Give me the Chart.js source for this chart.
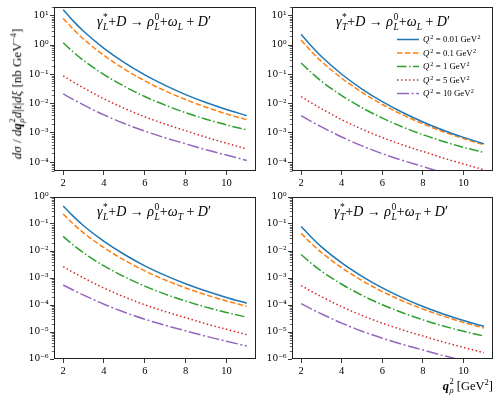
<!DOCTYPE html>
<html><head><meta charset="utf-8">
<script src="https://cdn.jsdelivr.net/npm/chart.js@4.4.1/dist/chart.umd.min.js"></script>
<style>
html,body{margin:0;padding:0;background:#fff}
#fig{position:relative;width:498px;height:399px;overflow:hidden;font-family:"Liberation Serif",serif;color:#000}
canvas{position:absolute}
.ann{position:absolute;white-space:nowrap;line-height:1}
.ss{display:inline-block;vertical-align:-0.32em;font-size:0.68em;line-height:1.0;margin-left:0.5px}
.ss>span{display:block}
.ttl{font-size:14px;transform:translateX(-50%)}
</style></head><body>
<div id="fig">
<canvas id="c0" width="258" height="190" style="left:0;top:0"></canvas>
<canvas id="c1" width="258" height="190" style="left:240px;top:0"></canvas>
<canvas id="c2" width="258" height="190" style="left:0;top:190px"></canvas>
<canvas id="c3" width="258" height="190" style="left:240px;top:190px"></canvas>
<div class="ann ttl" style="left:154px;top:13px"><i>γ</i><span class="ss"><span>*</span><span><i>L</i></span></span>+<i>D</i> → <i>ρ</i><span class="ss"><span>0</span><span><i>L</i></span></span>+<i>ω</i><sub style="font-size:0.68em"><i>L</i></sub> + <i>D</i>′</div>
<div class="ann ttl" style="left:393px;top:13px"><i>γ</i><span class="ss"><span>*</span><span><i>T</i></span></span>+<i>D</i> → <i>ρ</i><span class="ss"><span>0</span><span><i>L</i></span></span>+<i>ω</i><sub style="font-size:0.68em"><i>L</i></sub> + <i>D</i>′</div>
<div class="ann ttl" style="left:154px;top:203px"><i>γ</i><span class="ss"><span>*</span><span><i>L</i></span></span>+<i>D</i> → <i>ρ</i><span class="ss"><span>0</span><span><i>L</i></span></span>+<i>ω</i><sub style="font-size:0.68em"><i>T</i></sub> + <i>D</i>′</div>
<div class="ann ttl" style="left:391px;top:203px"><i>γ</i><span class="ss"><span>*</span><span><i>T</i></span></span>+<i>D</i> → <i>ρ</i><span class="ss"><span>0</span><span><i>L</i></span></span>+<i>ω</i><sub style="font-size:0.68em"><i>T</i></sub> + <i>D</i>′</div>
<div class="ann" style="left:17px;top:94px;font-size:13px;transform:translate(-50%,-50%) rotate(-90deg)"><i>dσ</i> / <i>d</i><b><i>q</i></b><span class="ss"><span>2</span><span><i>ρ</i></span></span><i>d</i>|<i>t</i>|<i>dξ</i> [nb GeV<sup style="font-size:0.68em">−4</sup>]</div>
<div class="ann" style="right:5px;top:377px;font-size:12.5px"><b><i>q</i></b><span class="ss"><span>2</span><span><i>ρ</i></span></span> [GeV<sup style="font-size:0.68em">2</sup>]</div>
</div>
<script>
// ---- data ----
const qSq = [2, 2.5, 3, 4, 5, 6, 7, 8, 9, 10, 11];
const seriesLabels = ['Q² = 0.01 GeV²', 'Q² = 0.1 GeV²', 'Q² = 1 GeV²', 'Q² = 5 GeV²', 'Q² = 10 GeV²'];

// gamma*_L + D -> rho_L + omega_L + D'
const gLwL_001 = [16.2, 6.59, 2.96, 0.774, 0.251, 0.0955, 0.0419, 0.0204, 0.0109, 6.31e-3, 3.89e-3];
const gLwL_01  = [8.13, 3.44, 1.60, 0.444, 0.151, 0.0601, 0.0273, 0.0138, 7.57e-3, 4.48e-3, 2.82e-3];
const gLwL_1   = [1.20, 0.573, 0.296, 0.0982, 0.0389, 0.0175, 8.89e-3, 4.93e-3, 2.95e-3, 1.88e-3, 1.26e-3];
const gLwL_5   = [0.0891, 0.0546, 0.0345, 0.01454, 6.88e-3, 3.55e-3, 2.00e-3, 1.19e-3, 7.08e-4, 4.47e-4, 2.82e-4];
const gLwL_10  = [0.0214, 0.01371, 9.02e-3, 4.12e-3, 2.09e-3, 1.15e-3, 6.79e-4, 4.24e-4, 2.65e-4, 1.75e-4, 1.15e-4];

// gamma*_T + D -> rho_L + omega_L + D'
const gTwL_001 = [2.34, 0.925, 0.405, 0.101, 0.0316, 0.01164, 4.97e-3, 2.37e-3, 1.24e-3, 7.03e-4, 4.27e-4];
const gTwL_01  = [1.48, 0.608, 0.277, 0.0736, 0.0243, 9.35e-3, 4.14e-3, 2.04e-3, 1.10e-3, 6.41e-4, 3.98e-4];
const gTwL_1   = [0.245, 0.115, 0.0583, 0.01875, 7.24e-3, 3.20e-3, 1.59e-3, 8.69e-4, 5.12e-4, 3.21e-4, 2.14e-4];
const gTwL_5   = [0.0174, 0.01066, 6.72e-3, 2.83e-3, 1.34e-3, 6.92e-4, 3.89e-4, 2.32e-4, 1.38e-4, 8.71e-5, 5.50e-5];
const gTwL_10  = [3.89e-3, 2.47e-3, 1.61e-3, 7.23e-4, 3.61e-4, 1.95e-4, 1.15e-4, 7.08e-5, 4.38e-5, 2.86e-5, 1.86e-5];

// gamma*_L + D -> rho_L + omega_T + D'
const gLwT_001 = [0.468, 0.191, 0.0863, 0.0227, 7.41e-3, 2.83e-3, 1.25e-3, 6.11e-4, 3.28e-4, 1.90e-4, 1.17e-4];
const gLwT_01  = [0.234, 0.100, 0.0470, 0.01324, 4.57e-3, 1.83e-3, 8.41e-4, 4.28e-4, 2.37e-4, 1.41e-4, 8.91e-5];
const gLwT_1   = [0.0347, 0.0165, 8.51e-3, 2.81e-3, 1.11e-3, 4.99e-4, 2.52e-4, 1.40e-4, 8.34e-5, 5.28e-5, 3.55e-5];
const gLwT_5   = [2.63e-3, 1.61e-3, 1.01e-3, 4.23e-4, 1.99e-4, 1.02e-4, 5.71e-5, 3.39e-5, 2.01e-5, 1.26e-5, 7.94e-6];
const gLwT_10  = [5.50e-4, 3.53e-4, 2.33e-4, 1.07e-4, 5.42e-5, 2.98e-5, 1.77e-5, 1.11e-5, 6.95e-6, 4.58e-6, 3.02e-6];

// gamma*_T + D -> rho_L + omega_T + D'
const gTwT_001 = [0.0813, 0.0324, 0.01429, 3.62e-3, 1.15e-3, 4.28e-4, 1.84e-4, 8.83e-5, 4.67e-5, 2.66e-5, 1.62e-5];
const gTwT_01  = [0.0457, 0.0191, 8.79e-3, 2.39e-3, 8.04e-4, 3.15e-4, 1.41e-4, 7.05e-5, 3.85e-5, 2.26e-5, 1.41e-5];
const gTwT_1   = [7.41e-3, 3.50e-3, 1.79e-3, 5.86e-4, 2.29e-4, 1.02e-4, 5.14e-5, 2.82e-5, 1.67e-5, 1.06e-5, 7.08e-6];
const gTwT_5   = [5.25e-4, 3.22e-4, 2.04e-4, 8.63e-5, 4.09e-5, 2.12e-5, 1.19e-5, 7.11e-6, 4.25e-6, 2.69e-6, 1.70e-6];
const gTwT_10  = [1.12e-4, 7.16e-5, 4.70e-5, 2.13e-5, 1.07e-5, 5.86e-6, 3.46e-6, 2.15e-6, 1.34e-6, 8.77e-7, 5.75e-7];

// axes
const xRange = [1.55, 11.45];
const xTicks = [2, 4, 6, 8, 10];
const yRangeTop = [5e-5, 20];
const yTicksTop = [1e-4, 1e-3, 1e-2, 1e-1, 1e0, 1e1];
const yRangeBottom = [1e-6, 1];
const yTicksBottom = [1e-6, 1e-5, 1e-4, 1e-3, 1e-2, 1e-1, 1e0];

// ---- styling ----
const colors = ['#1f77b4', '#ff7f0e', '#2ca02c', '#d62728', '#9467bd'];
const dashes = [[], [5.55, 2.4], [9.6, 2.4, 1.5, 2.4], [1.5, 2.475], [12, 2.6, 2, 2.6]];
const FONT = '"Liberation Serif", serif';
Chart.defaults.font.family = FONT;
Chart.defaults.color = '#000';

const SUP = {'-':'⁻','0':'⁰','1':'¹','2':'²','3':'³','4':'⁴','5':'⁵','6':'⁶','7':'⁷','8':'⁸','9':'⁹'};
function decadeLabel(v) {
  const e = Math.round(Math.log10(v));
  return '10' + String(e).split('').map(c => SUP[c]).join('');
}

const framePlugin = {
  id: 'frame',
  afterDraw(chart) {
    const {ctx, chartArea: a} = chart;
    const y = chart.scales.y;
    ctx.save();
    ctx.strokeStyle = '#222';
    ctx.lineWidth = 1;
    ctx.strokeRect(a.left + 0.5, a.top + 0.5, a.right - a.left - 1, a.bottom - a.top - 1);
    ctx.lineWidth = 0.7;
    ctx.beginPath();
    const lo = Math.floor(Math.log10(y.min)), hi = Math.ceil(Math.log10(y.max));
    for (let d = lo; d <= hi; d++) {
      for (let m = 2; m <= 9; m++) {
        const v = m * Math.pow(10, d);
        if (v < y.min || v > y.max) continue;
        const py = Math.round(y.getPixelForValue(v)) + 0.5;
        ctx.moveTo(a.left - 2.2, py);
        ctx.lineTo(a.left + 0.5, py);
      }
    }
    ctx.stroke();
    ctx.restore();
  }
};

// legend drawn inside the chart area; "²" is typeset as a raised smaller "2", first letter italic
const legendPlugin = {
  id: 'inlegend',
  afterDraw(chart) {
    const {ctx, chartArea: a} = chart;
    const fs = 8.8;
    chart.data.datasets.forEach((ds, i) => {
      const y = a.top + 32.5 + i * 13.5;
      const x0 = a.right - 96, x1 = a.right - 74;
      let tx = a.right - 70;
      ctx.save();
      ctx.strokeStyle = ds.borderColor;
      ctx.lineWidth = ds.borderWidth;
      ctx.setLineDash(ds.borderDash);
      ctx.beginPath(); ctx.moveTo(x0, y); ctx.lineTo(x1, y); ctx.stroke();
      ctx.setLineDash([]);
      ctx.fillStyle = '#000';
      ctx.textBaseline = 'alphabetic';
      const base = y + fs * 0.33;
      const parts = ds.label.split('²');
      parts.forEach((part, k) => {
        if (k === 0) {
          ctx.font = 'italic ' + fs + 'px ' + FONT;
          ctx.fillText(part[0], tx, base);
          tx += ctx.measureText(part[0]).width + 0.5;
          part = part.slice(1);
        }
        ctx.font = fs + 'px ' + FONT;
        ctx.fillText(part, tx, base);
        tx += ctx.measureText(part).width;
        if (k < parts.length - 1) {
          ctx.font = (fs * 0.7) + 'px ' + FONT;
          ctx.fillText('2', tx + 0.3, base - fs * 0.38);
          tx += ctx.measureText('2').width + 0.6;
        }
      });
      ctx.restore();
    });
  }
};

const panels = [
  {id: 'c0', series: [gLwL_001, gLwL_01, gLwL_1, gLwL_5, gLwL_10], yRange: yRangeTop, yTicks: yTicksTop, yWidth: 54, padRight: 2, xHeight: 19, legend: false},
  {id: 'c1', series: [gTwL_001, gTwL_01, gTwL_1, gTwL_5, gTwL_10], yRange: yRangeTop, yTicks: yTicksTop, yWidth: 52, padRight: 5, xHeight: 19, legend: true},
  {id: 'c2', series: [gLwT_001, gLwT_01, gLwT_1, gLwT_5, gLwT_10], yRange: yRangeBottom, yTicks: yTicksBottom, yWidth: 54, padRight: 2, xHeight: 21, legend: false},
  {id: 'c3', series: [gTwT_001, gTwT_01, gTwT_1, gTwT_5, gTwT_10], yRange: yRangeBottom, yTicks: yTicksBottom, yWidth: 52, padRight: 5, xHeight: 21, legend: false}
];

panels.forEach(p => {
  new Chart(document.getElementById(p.id), {
    type: 'line',
    data: {
      datasets: p.series.map((arr, i) => ({
        label: seriesLabels[i],
        data: qSq.map((x, j) => ({x: x, y: arr[j]})),
        borderColor: colors[i],
        borderDash: dashes[i],
        borderWidth: 1.5,
        pointRadius: 0,
        fill: false,
        cubicInterpolationMode: 'monotone',
        clip: 0
      }))
    },
    options: {
      responsive: false,
      animation: false,
      devicePixelRatio: 1,
      layout: {padding: {top: 7, right: p.padRight, left: 0, bottom: 0}},
      plugins: {legend: {display: false}, tooltip: {enabled: false}},
      scales: {
        x: {
          type: 'linear', min: xRange[0], max: xRange[1],
          afterBuildTicks: s => { s.ticks = xTicks.map(v => ({value: v})); },
          afterFit: s => { s.height = p.xHeight; },
          grid: {drawOnChartArea: false, tickLength: 4, tickColor: '#222', tickWidth: 0.9},
          border: {display: false},
          ticks: {font: {size: 10.5}, color: '#000', padding: 2, maxRotation: 0, autoSkip: false, callback: v => String(v)}
        },
        y: {
          type: 'logarithmic', min: p.yRange[0], max: p.yRange[1],
          afterBuildTicks: s => { s.ticks = p.yTicks.map(v => ({value: v})); },
          afterFit: s => { s.width = p.yWidth; },
          grid: {drawOnChartArea: false, tickLength: 4, tickColor: '#222', tickWidth: 0.9},
          border: {display: false},
          ticks: {font: {family: '"DejaVu Serif", serif', size: 9}, color: '#000', padding: 1.5, autoSkip: false, callback: v => decadeLabel(v)}
        }
      }
    },
    plugins: p.legend ? [framePlugin, legendPlugin] : [framePlugin]
  });
});
</script>
</body></html>
